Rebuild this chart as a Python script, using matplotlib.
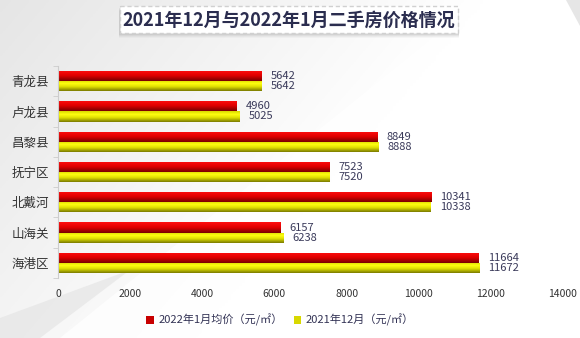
import numpy as np
import matplotlib.pyplot as plt
from matplotlib.colors import LinearSegmentedColormap
from matplotlib.patches import Rectangle, Polygon

plt.rcParams['font.family'] = ['Noto Sans CJK SC', 'DejaVu Sans']

title = '2021年12月与2022年1月二手房价格情况'
areas = ['青龙县', '卢龙县', '昌黎县', '抚宁区', '北戴河', '山海关', '海港区']
jan_2022 = [5642, 4960, 8849, 7523, 10341, 6157, 11664]
dec_2021 = [5642, 5025, 8888, 7520, 10338, 6238, 11672]
series_names = ['2022年1月均价（元/㎡）', '2021年12月（元/㎡）']
xticks = [0, 2000, 4000, 6000, 8000, 10000, 12000, 14000]

W, H = 580, 338
fig = plt.figure(figsize=(W / 100, H / 100), dpi=100)

# background: light grey fading to white, with a diagonal streak
bg = fig.add_axes([0, 0, 1, 1], zorder=-10)
bg.set_xlim(0, W)
bg.set_ylim(H, 0)
bg.axis('off')
gx, gy = np.meshgrid(np.linspace(0, 1, 200), np.linspace(0, 1, 120))
shade = np.clip(0.90 + 0.10 * (gx * 1.2 + gy * 0.6), 0.90, 1.0)
bg.imshow(np.dstack([shade] * 3), extent=[0, W, H, 0], aspect='auto')
bg.add_patch(Polygon([[480, 0], [600, 0], [600, 40], [190, 338], [60, 338]],
                     closed=True, fc='white', ec='none', alpha=0.75))
bg.add_patch(Polygon([[566, 0], [580, 0], [580, 26]],
                     closed=True, fc='#e6e6e6', ec='none'))
bg.add_patch(Polygon([[0, 318], [130, 270], [40, 338], [0, 338]],
                     closed=True, fc='#e2e2e2', ec='none', alpha=0.6))

# title box with shadow
tx0, tx1, ty0, ty1 = 120, 458, 6, 33
for k, a in zip([5, 4, 3, 2], [0.05, 0.07, 0.09, 0.12]):
    bg.add_patch(Rectangle((tx0 - 1, ty0 + k), tx1 - tx0 + 2, ty1 - ty0,
                           fc='#808080', ec='none', alpha=a))
bg.add_patch(Rectangle((tx0, ty0), tx1 - tx0, ty1 - ty0, fc='white',
                       ec='#d0d0d0', ls=(0, (3, 2)), lw=1))
bg.text((tx0 + tx1) / 2, (ty0 + ty1) / 2 + 0.5, title, ha='center', va='center',
        fontsize=13, fontweight='heavy', color='#2b2d4f')

ax = fig.add_axes([58 / W, 1 - 278 / H, (563 - 58) / W, (278 - 66) / H])
ax.set_facecolor('none')

red_cmap = LinearSegmentedColormap.from_list(
    'r', [(0, '#ff1010'), (0.5, '#e00000'), (1, '#780000')])
yel_cmap = LinearSegmentedColormap.from_list(
    'y', [(0, '#d8d800'), (0.3, '#ffff10'), (0.6, '#e0e000'), (1, '#7a7a00')])
grad = np.linspace(0, 1, 64).reshape(-1, 1)

y = np.arange(len(areas))
h = 0.333
for vals, off, cmap in [(jan_2022, -h / 2, red_cmap), (dec_2021, h / 2, yel_cmap)]:
    bars = ax.barh(y + off, vals, height=h, color='none', edgecolor='none')
    for b, v in zip(bars, vals):
        y_lo, y_hi = b.get_y(), b.get_y() + b.get_height()
        im = ax.imshow(grad, extent=[0, v, y_hi, y_lo], origin='upper',
                       aspect='auto', cmap=cmap, interpolation='bilinear')
        im.set_clip_path(b)
        ax.annotate(str(v), (v, b.get_y() + b.get_height() / 2),
                    xytext=(9, 0), textcoords='offset pixels',
                    ha='left', va='center', fontsize=8, color='#3a3a5a')

ax.set_xlim(0, 14000)
ax.set_ylim(len(areas) - 0.5, -0.5)
ax.set_xticks(xticks)
ax.set_xticklabels([str(t) for t in xticks], fontsize=7.5, color='#333333')
ax.tick_params(axis='x', length=0, pad=8)
ax.set_yticks(y)
ax.set_yticklabels(areas, fontsize=9, color='#333333')
ax.set_yticks(np.arange(-0.5, len(areas)), minor=True)
ax.tick_params(axis='y', which='major', length=0, pad=6.5)
ax.tick_params(axis='y', which='minor', length=3.6, color='#cccccc')
for s in ['top', 'right', 'bottom']:
    ax.spines[s].set_visible(False)
ax.spines['left'].set_color('#cccccc')

handles = [Rectangle((0, 0), 1, 1, fc='#c80000'), Rectangle((0, 0), 1, 1, fc='#d8d800')]
fig.legend(handles, series_names, loc='center', bbox_to_anchor=(280 / W, 1 - 320 / H),
           ncol=2, frameon=False, fontsize=8, handlelength=0.7, handleheight=0.7,
           handletextpad=0.35, columnspacing=1.0, labelcolor='#333355')

fig.savefig('out.png', dpi=100)
